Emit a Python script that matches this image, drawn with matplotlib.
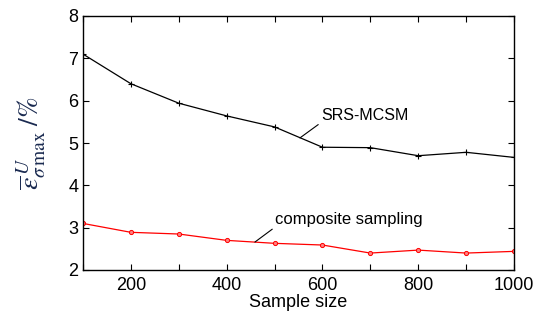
import matplotlib
matplotlib.use('Agg')
import matplotlib.pyplot as plt

plt.rcParams['font.family'] = ['Liberation Sans', 'DejaVu Sans']
plt.rcParams['mathtext.fontset'] = 'stix'

sample_size = [100, 200, 300, 400, 500, 600, 700, 800, 900, 1000]
srs_mcsm = [7.10, 6.40, 5.94, 5.64, 5.38, 4.90, 4.89, 4.70, 4.78, 4.66]
composite = [3.10, 2.89, 2.85, 2.70, 2.63, 2.59, 2.40, 2.47, 2.40, 2.44]

x_ticks = [100, 200, 300, 400, 500, 600, 700, 800, 900, 1000]
x_labels = ['', '200', '', '400', '', '600', '', '800', '', '1000']
y_ticks = [2, 3, 4, 5, 6, 7, 8]

fig = plt.figure(figsize=(5.37, 3.13), dpi=100)
ax = fig.add_axes([83/537, 1 - 270/313, (514-83)/537, (270-16)/313])

ax.plot(sample_size, srs_mcsm, color='black', lw=0.9, marker='+', ms=4, mew=0.8)
ax.plot(sample_size, composite, color='red', lw=0.9, marker='o', ms=3,
        mfc='#ff8080', mec='red', mew=0.7)

ax.set_xlim(100, 1000)
ax.set_ylim(2, 8)
ax.set_xticks(x_ticks)
ax.set_xticklabels(x_labels)
ax.set_yticks(y_ticks)
ax.tick_params(direction='in', top=True, right=True, labelsize=13, length=4, width=0.8)
ax.tick_params(axis='x', pad=5)
for s in ax.spines.values():
    s.set_linewidth(1.0)

ax.annotate('SRS-MCSM', xy=(553, 5.12), xytext=(597, 5.66),
            fontsize=11.5, va='center', ha='left',
            arrowprops=dict(arrowstyle='-', color='black', lw=0.8,
                            shrinkA=0, shrinkB=0, relpos=(0, 0)))
ax.annotate('composite sampling', xy=(459, 2.66), xytext=(501, 3.19),
            fontsize=12, va='center', ha='left',
            arrowprops=dict(arrowstyle='-', color='black', lw=0.8,
                            shrinkA=0, shrinkB=0, relpos=(0, 0)))

ax.set_xlabel('Sample size', fontsize=13, labelpad=0)
ax.set_ylabel(r'$\overline{\varepsilon}^{\,U}_{\sigma\,\max}\;/\%$', fontsize=20,
              color='#1a2a50', labelpad=14)

fig.savefig('out.png', dpi=100)
